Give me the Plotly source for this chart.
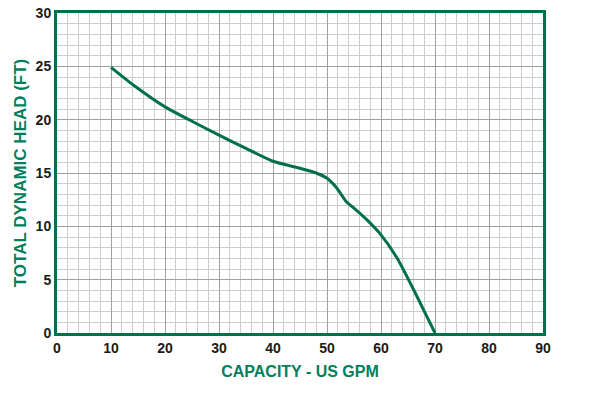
import plotly.graph_objects as go

capacity_gpm = [10, 14, 20, 25, 30, 35, 40, 45, 48, 50, 51.8, 53.6, 55, 57.4, 60, 63, 66, 68, 70]
head_ft = [24.9, 23.3, 21.2, 19.85, 18.55, 17.3, 16.1, 15.45, 15.0, 14.5, 13.6, 12.3, 11.7, 10.6, 9.2, 7.0, 4.1, 2.05, 0.0]

x_ticks = [0, 10, 20, 30, 40, 50, 60, 70, 80, 90]
y_ticks = [0, 5, 10, 15, 20, 25, 30]

GREEN = "#00704a"
TITLE_GREEN = "#00805a"

fig = go.Figure()
fig.add_trace(go.Scatter(
    x=capacity_gpm, y=head_ft, mode="lines",
    line=dict(color=GREEN, width=3, shape="spline", smoothing=0.6),
    hoverinfo="skip", showlegend=False,
))

font_family = "Liberation Sans, Arial, sans-serif"
fig.update_layout(
    width=600, height=400,
    margin=dict(l=57, r=57, t=13, b=67),
    paper_bgcolor="white", plot_bgcolor="white",
    font=dict(family=font_family, color="#1a1a1a"),
    xaxis=dict(
        range=[0, 90], tickvals=x_ticks, ticktext=[str(v) for v in x_ticks],
        automargin=False,
        showgrid=True, gridcolor="#a0a0a0", gridwidth=1,
        minor=dict(dtick=2, showgrid=True, gridcolor="#cdcdcd", gridwidth=1),
        showline=True, linecolor=GREEN, linewidth=3, mirror=True,
        ticks="", zeroline=False,
        tickfont=dict(size=14, family=font_family, weight="bold", color="#1a1a1a"),
        title=dict(text="CAPACITY - US GPM", standoff=12,
                   font=dict(size=16, family=font_family, weight="bold", color=TITLE_GREEN)),
    ),
    yaxis=dict(
        range=[0, 30], tickvals=y_ticks, ticktext=[str(v) for v in y_ticks],
        automargin=False,
        showgrid=True, gridcolor="#a0a0a0", gridwidth=1,
        minor=dict(dtick=1, showgrid=True, gridcolor="#cdcdcd", gridwidth=1),
        showline=True, linecolor=GREEN, linewidth=3, mirror=True,
        ticks="", zeroline=False,
        tickfont=dict(size=14, family=font_family, weight="bold", color="#1a1a1a"),
        title=dict(text="TOTAL DYNAMIC HEAD (FT)", standoff=5,
                   font=dict(size=17, family=font_family, weight="bold", color=TITLE_GREEN)),
    ),
)

fig.write_html("out.html", config={"displayModeBar": False},
               post_script="document.body.style.margin='0';document.body.style.padding='0';")
